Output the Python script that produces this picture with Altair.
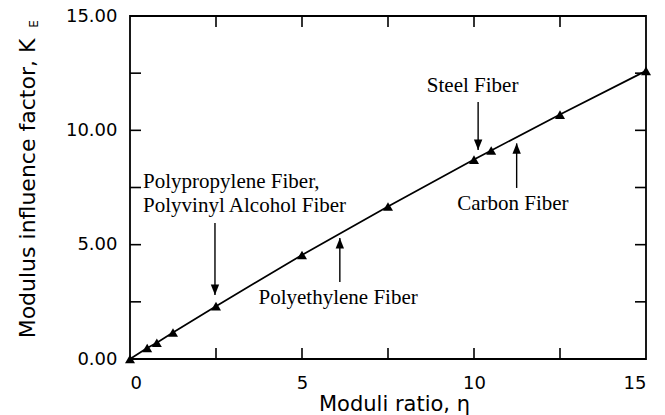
import altair as alt
import pandas as pd

# Modulus influence factor K_E against moduli ratio
ratio = [0, 0.5, 0.78, 1.25, 2.5, 5, 7.5, 10, 10.5, 12.5, 15]
k_e = [0, 0.48, 0.71, 1.16, 2.31, 4.55, 6.67, 8.72, 9.12, 10.69, 12.6]

# fibre annotations: label lines, text anchor, arrow shaft
note_text = ["Polypropylene Fiber,", "Polyvinyl Alcohol Fiber", "Polyethylene Fiber", "Steel Fiber", "Carbon Fiber"]
note_x = [0.38, 0.38, 6.05, 9.96, 11.13]
note_y = [7.72, 6.71, 2.67, 11.94, 6.78]
note_align = ["left", "left", "center", "center", "center"]

arrow_x = [2.47, 6.10, 10.12, 11.24]
arrow_from = [5.95, 3.37, 11.24, 7.48]
arrow_to = [2.80, 5.29, 9.14, 9.43]
arrow_dir = ["down", "up", "down", "up"]

tick_values = [2.5, 5, 7.5, 10, 12.5]
label_values = [0, 5, 10, 15]

X_MAX, Y_MAX = 15, 15
W, H = 516, 343
TICK = 11  # inward tick length in pixels

pts = pd.DataFrame({"ratio": ratio, "k": k_e})
notes = pd.DataFrame({"t": note_text, "x": note_x, "y": note_y, "a": note_align})
arrows = pd.DataFrame({"x": arrow_x, "y1": arrow_from, "y2": arrow_to, "d": arrow_dir})
ticks = pd.DataFrame({"v": tick_values})

xs = alt.Scale(domain=[0, X_MAX], nice=False, zero=False)
ys = alt.Scale(domain=[0, Y_MAX], nice=False, zero=False)

x_axis = alt.Axis(
    values=label_values, format="d", ticks=False, tickSize=0, domain=False, grid=False,
    labelFont="DejaVu Sans", labelFontSize=18, labelColor="black", labelPadding=15,
    title="Moduli ratio, η", titleFont="DejaVu Sans", titleFontSize=21,
    titleFontWeight="normal", titleColor="black",
    titleX=264, titleY=51, titleBaseline="alphabetic", titleAlign="center",
)
y_axis = alt.Axis(
    values=label_values, format=".2f", ticks=False, tickSize=0, domain=False, grid=False,
    labelFont="DejaVu Sans", labelFontSize=18, labelColor="black", labelPadding=13,
    title="Modulus influence factor, K", titleFont="DejaVu Sans", titleFontSize=22,
    titleFontWeight="normal", titleColor="black",
    titleX=-96, titleY=172, titleAngle=270, titleBaseline="alphabetic", titleAlign="center",
)

line = alt.Chart(pts).mark_line(color="black", strokeWidth=1.7).encode(
    x=alt.X("ratio:Q", scale=xs, axis=x_axis),
    y=alt.Y("k:Q", scale=ys, axis=y_axis),
)
markers = alt.Chart(pts).mark_point(
    shape="triangle-up", filled=True, color="black", size=100, opacity=1
).encode(x=alt.X("ratio:Q", scale=xs), y=alt.Y("k:Q", scale=ys))

shafts = alt.Chart(arrows).mark_rule(color="black", strokeWidth=1.4).encode(
    x=alt.X("x:Q", scale=xs), y=alt.Y("y1:Q", scale=ys), y2="y2:Q"
)
heads_down = alt.Chart(arrows).transform_filter(alt.datum.d == "down").mark_point(
    shape="M0,0L0.8,-2L-0.8,-2Z", filled=True, color="black", size=110, opacity=1
).encode(x=alt.X("x:Q", scale=xs), y=alt.Y("y2:Q", scale=ys))
heads_up = alt.Chart(arrows).transform_filter(alt.datum.d == "up").mark_point(
    shape="M0,0L0.8,2L-0.8,2Z", filled=True, color="black", size=110, opacity=1
).encode(x=alt.X("x:Q", scale=xs), y=alt.Y("y2:Q", scale=ys))

labels_left = alt.Chart(notes).transform_filter(alt.datum.a == "left").mark_text(
    font="Liberation Serif", fontSize=21, color="black", align="left", baseline="middle"
).encode(x=alt.X("x:Q", scale=xs), y=alt.Y("y:Q", scale=ys), text="t:N")
labels_center = alt.Chart(notes).transform_filter(alt.datum.a == "center").mark_text(
    font="Liberation Serif", fontSize=21, color="black", align="center", baseline="middle"
).encode(x=alt.X("x:Q", scale=xs), y=alt.Y("y:Q", scale=ys), text="t:N")

# inward ticks on all four sides of the frame
tick_style = dict(color="black", strokeWidth=1.6)
tick_bottom = alt.Chart(ticks).mark_rule(**tick_style).encode(
    x=alt.X("v:Q", scale=xs), y=alt.value(H), y2=alt.value(H - TICK))
tick_top = alt.Chart(ticks).mark_rule(**tick_style).encode(
    x=alt.X("v:Q", scale=xs), y=alt.value(0), y2=alt.value(TICK))
tick_left = alt.Chart(ticks).mark_rule(**tick_style).encode(
    y=alt.Y("v:Q", scale=ys), x=alt.value(0), x2=alt.value(TICK))
tick_right = alt.Chart(ticks).mark_rule(**tick_style).encode(
    y=alt.Y("v:Q", scale=ys), x=alt.value(W), x2=alt.value(W - TICK))

# subscript E of K_E on the rotated axis title
subscript = alt.Chart(pd.DataFrame({"t": ["E"]})).mark_text(
    font="DejaVu Sans", fontSize=12, color="black", angle=270, align="center", baseline="alphabetic"
).encode(x=alt.value(-92), y=alt.value(8), text="t:N")

chart = alt.layer(
    line, tick_bottom, tick_top, tick_left, tick_right,
    markers, shafts, heads_down, heads_up,
    labels_left, labels_center, subscript,
).properties(
    width=W, height=H,
    autosize=alt.AutoSizeParams(type="none"),
    padding={"left": 130, "top": 16, "right": 19, "bottom": 56},
    background="white",
).configure_view(stroke="black", strokeWidth=1.8)

chart.save("out.html", embed_options={"renderer": "svg", "actions": False})
